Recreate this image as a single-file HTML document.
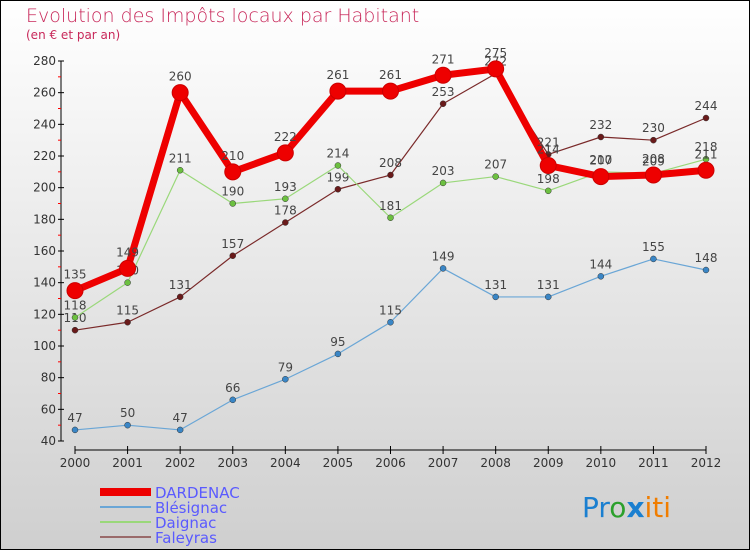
<!DOCTYPE html>
<html><head><meta charset="utf-8"><style>
body{margin:0}
svg{display:block;font-family:"DejaVu Sans","Liberation Sans",sans-serif}
</style></head><body>
<svg id="c" width="750" height="550" xmlns="http://www.w3.org/2000/svg">
<defs><linearGradient id="bg" x1="0" y1="0" x2="0" y2="1"><stop offset="0" stop-color="#ffffff"/><stop offset="1" stop-color="#cfcfcf"/></linearGradient></defs>
<rect x="0.5" y="0.5" width="749" height="549" fill="url(#bg)" stroke="#000"/>
<text x="26" y="22" font-size="19" fill="#c8285a" style="font-weight:200">Evolution des Impôts locaux par Habitant</text>
<text x="26" y="39" font-size="12" fill="#c8285a">(en € et par an)</text>
<g id="axes"></g><g id="series"></g><g id="legend"></g>
<text x="582" y="517" font-size="28"><tspan fill="#1a7fd0">Pr</tspan><tspan fill="#2ca02c">o</tspan><tspan fill="#1a7fd0" font-weight="bold">x</tspan><tspan fill="#f07d00">iti</tspan></text>
</svg>
<script>
const years=[2000,2001,2002,2003,2004,2005,2006,2007,2008,2009,2010,2011,2012];
const yTicks=[40,60,80,100,120,140,160,180,200,220,240,260,280];
const dardenac=[135,149,260,210,222,261,261,271,275,214,207,208,211];
const blesignac=[47,50,47,66,79,95,115,149,131,131,144,155,148];
const daignac=[118,140,211,190,193,214,181,203,207,198,210,209,218];
const faleyras=[110,115,131,157,178,199,208,253,272,221,232,230,244];
const NS="http://www.w3.org/2000/svg";
const X=i=>75+i*(706-75)/12;
const Y=v=>441-(v-40)*(441-61)/240;
function mk(t,a,p){const e=document.createElementNS(NS,t);for(const k in a)e.setAttribute(k,a[k]);p.appendChild(e);return e;}
const ax=document.getElementById('axes');
const ya=mk('line',{x1:61,y1:61,x2:61,y2:441,stroke:'#000'},ax);

const xa=mk('line',{x1:75,y1:450,x2:706,y2:450,stroke:'#000'},ax);

yTicks.forEach((v,i)=>{
 mk('line',{x1:58,y1:Y(v),x2:64,y2:Y(v),stroke:'#000'},ax);
 if(i<yTicks.length-1)mk('line',{x1:58,y1:Y(v+10),x2:61,y2:Y(v+10),stroke:'#f00'},ax);
 const t=mk('text',{x:56,y:Y(v)+4,'text-anchor':'end','font-size':12,fill:'#333'},ax);t.textContent=v;
 
});
years.forEach((y,i)=>{
 mk('line',{x1:X(i),y1:446,x2:X(i),y2:454,stroke:'#000'},ax);
 const t=mk('text',{x:X(i),y:467,'text-anchor':'middle','font-size':12,fill:'#333'},ax);t.textContent=y;
 
});
const sg=document.getElementById('series');
const defs=[[faleyras,'#7a2a2a','#6a1a1a',1.2,3,'faleyras'],[daignac,'#9ad87a','#6cc040',1.2,3,'daignac'],[blesignac,'#6aa6d6','#3a86c6',1.2,3,'blesignac'],[dardenac,'#ee0000','#ee0000',7,8,'dardenac']];
defs.forEach(([d,c,fc,w,r,n])=>{
 const g=mk('g',{},sg);
 const pl=mk('polyline',{points:d.map((v,i)=>X(i)+','+Y(v)).join(' '),fill:'none',stroke:c,'stroke-width':w,'stroke-linejoin':'round'},g);
 
 d.forEach((v,i)=>{
  const p=mk('circle',{cx:X(i),cy:Y(v),r:r,fill:fc,stroke:n=='dardenac'?'#c00':'#333','stroke-width':n=='dardenac'?1:0.5},g);
  
  const t=mk('text',{x:X(i),y:Y(v)-(n=='dardenac'?12:8),'text-anchor':'middle','font-size':12,fill:'#444'},g);t.textContent=v;
  
 });
});
const lg=document.getElementById('legend');
[['DARDENAC','#ee0000',8],['Blésignac','#6aa6d6',2],['Daignac','#9ad87a',2],['Faleyras','#9a6a6a',2]].forEach(([n,c,w],i)=>{
 const y=492+i*15;
 const l=mk('line',{x1:100,y1:y,x2:151,y2:y,stroke:c,'stroke-width':w},lg);
 
 const t=mk('text',{x:155,y:y+6,'font-size':15,fill:'#5a5aff'},lg);t.textContent=n;
 
});
</script>
</body></html>
